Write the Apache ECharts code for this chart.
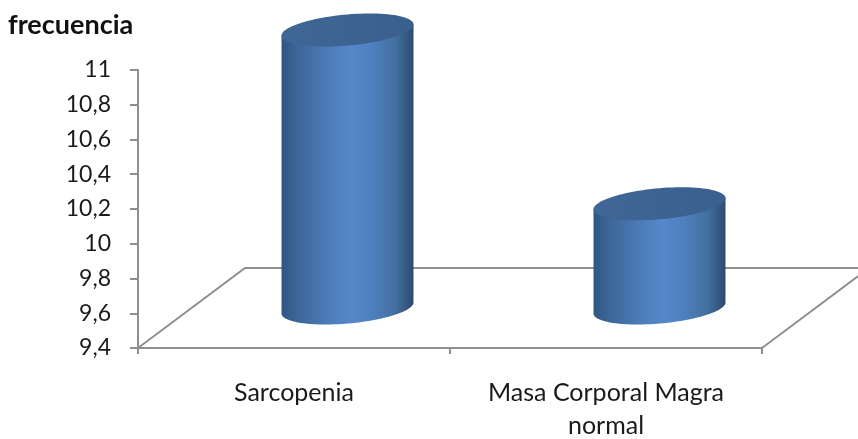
<!DOCTYPE html>
<html>
<head>
<meta charset="utf-8">
<title>Frecuencia</title>
<style>html,body{margin:0;padding:0;background:#fff}#chart{width:858px;height:439px}</style>
<script src="https://cdn.jsdelivr.net/npm/echarts@6/dist/echarts.min.js"></script>
</head>
<body>
<div id="chart"></div>
<script>
// Chart data
const categories = ['Sarcopenia', 'Masa Corporal Magra\nnormal'];
const frecuencia = [11, 10];
const yMin = 9.4;
const yMax = 11;
const yStep = 0.2;

// Perspective of the floor: how far the back edge is shifted from the front edge
const DEPTH_X = 107;
const DEPTH_Y = 80;
const BAND_RATIO = 0.2115;   // half cylinder width as a share of the category band
const RIM_HEIGHT = 16.5;     // vertical half extent of the rim ellipse
const AXIS_GREY = '#8f8f8f';

const chart = echarts.init(document.getElementById('chart'));

// Ellipse sheared along the floor's depth direction
function rim(cx, cy, halfW, from, to, steps) {
  const bx = RIM_HEIGHT * DEPTH_X / DEPTH_Y;
  const a = Math.sqrt(halfW * halfW - bx * bx);
  const t0 = Math.atan2(bx, a);
  const pts = [];
  for (let i = 0; i <= steps; i++) {
    const t = t0 + from + (to - from) * i / steps;
    pts.push([
      cx + a * Math.cos(t) + bx * Math.sin(t),
      cy - RIM_HEIGHT * Math.sin(t)
    ]);
  }
  return pts;
}

function renderFloor(params, api) {
  const cs = params.coordSys;
  const left = cs.x, right = cs.x + cs.width, bottom = cs.y + cs.height;
  return {
    type: 'polyline',
    shape: {
      points: [
        [left, bottom],
        [left + DEPTH_X, bottom - DEPTH_Y],
        [right + DEPTH_X, bottom - DEPTH_Y],
        [right, bottom]
      ]
    },
    style: { stroke: AXIS_GREY, lineWidth: 2, fill: 'none' },
    silent: true
  };
}

function renderCylinder(params, api) {
  const idx = api.value(0);
  const top = api.coord([idx, api.value(1)]);
  const base = api.coord([idx, yMin]);
  const halfW = api.size([1, 0])[0] * BAND_RATIO;
  const cx = top[0] + DEPTH_X / 2;
  const topY = top[1] - DEPTH_Y / 2;
  const baseY = base[1] - DEPTH_Y / 2;

  const lower = rim(cx, baseY, halfW, Math.PI, 2 * Math.PI, 48);
  const body = [[lower[0][0], topY + (lower[0][1] - baseY)]]
    .concat(lower)
    .concat([[lower[48][0], topY + (lower[48][1] - baseY)]]);

  return {
    type: 'group',
    children: [
      {
        type: 'polygon',
        shape: { points: body },
        style: {
          fill: new echarts.graphic.LinearGradient(0, 0, 1, 0, [
            { offset: 0, color: '#2f5683' },
            { offset: 0.12, color: '#3d6699' },
            { offset: 0.33, color: '#4b79b4' },
            { offset: 0.52, color: '#5588ca' },
            { offset: 0.68, color: '#4f80bf' },
            { offset: 0.86, color: '#43709f' },
            { offset: 1, color: '#2c4a70' }
          ])
        }
      },
      {
        type: 'polygon',
        shape: { points: rim(cx, topY, halfW, 0, 2 * Math.PI, 96) },
        style: {
          fill: new echarts.graphic.LinearGradient(0, 0, 1, 0, [
            { offset: 0, color: '#3f6796' },
            { offset: 1, color: '#3a5f8c' }
          ])
        }
      }
    ]
  };
}

chart.setOption({
  animation: false,
  backgroundColor: '#ffffff',
  textStyle: { fontFamily: 'Lato' },
  title: {
    text: 'frecuencia',
    left: 3,
    top: 7,
    textStyle: { fontFamily: 'Lato', fontWeight: 'bold', fontSize: 27, color: '#111' }
  },
  grid: { left: 138, top: 70, width: 624, height: 278, outerBoundsMode: 'none' },
  xAxis: {
    type: 'category',
    data: categories,
    axisLine: { lineStyle: { color: AXIS_GREY, width: 2 } },
    axisTick: { show: true, length: 6, lineStyle: { color: AXIS_GREY, width: 2 } },
    axisLabel: {
      margin: 28,
      fontSize: 25,
      lineHeight: 33,
      color: '#1a1a1a',
      interval: 0
    }
  },
  yAxis: {
    type: 'value',
    min: yMin,
    max: yMax,
    interval: yStep,
    splitLine: { show: false },
    axisLine: { show: true, lineStyle: { color: AXIS_GREY, width: 2 } },
    axisTick: { show: true, length: 8, lineStyle: { color: AXIS_GREY, width: 2 } },
    axisLabel: {
      margin: 27,
      fontSize: 23,
      color: '#1a1a1a',
      padding: [3, 0, 0, 0],
      formatter: v => String(Math.round(v * 10) / 10).replace('.', ',')
    }
  },
  series: [
    {
      type: 'custom',
      name: 'suelo',
      renderItem: renderFloor,
      data: [[0, yMin]],
      clip: false,
      z: 1,
      silent: true
    },
    {
      type: 'custom',
      name: 'frecuencia',
      renderItem: renderCylinder,
      encode: { x: 0, y: 1 },
      data: frecuencia.map((v, i) => [i, v]),
      clip: false,
      z: 3
    }
  ]
});
</script>
</body>
</html>
